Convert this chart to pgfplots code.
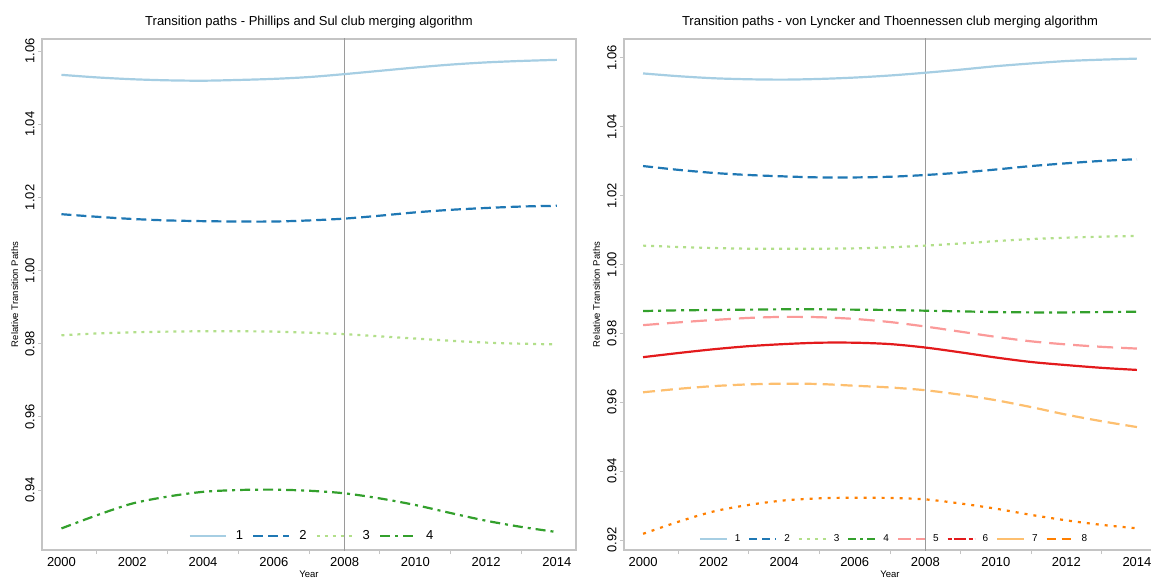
\documentclass[border=0pt]{standalone}
\usepackage{fontspec}
\setmainfont{Liberation Sans}
\usepackage{pgfplots}
\usepackage{pgfplotstable}
\pgfplotsset{compat=1.18}

\definecolor{c1}{HTML}{A6CEE3}
\definecolor{c2}{HTML}{1F78B4}
\definecolor{c3}{HTML}{B2DF8A}
\definecolor{c4}{HTML}{33A02C}
\definecolor{c5}{HTML}{FB9A99}
\definecolor{c6}{HTML}{E31A1C}
\definecolor{c7}{HTML}{FDBF6F}
\definecolor{c8}{HTML}{FF7F00}
\definecolor{framec}{HTML}{C4C4C4}
\definecolor{vlinec}{HTML}{9A9A9A}

\pgfplotstableread{
year a b c d
2000 1.0535 1.0154 0.9823 0.9295
2001 1.0528 1.0147 0.9828 0.9331
2002 1.0523 1.0141 0.9831 0.9363
2003 1.0520 1.0137 0.9833 0.9382
2004 1.0519 1.0135 0.9834 0.9395
2005 1.0521 1.0134 0.9834 0.9400
2006 1.0524 1.0134 0.9833 0.9401
2007 1.0529 1.0137 0.9830 0.9398
2008 1.0537 1.0142 0.9826 0.9391
2009 1.0546 1.0150 0.9820 0.9377
2010 1.0555 1.0159 0.9814 0.9359
2011 1.0563 1.0166 0.9808 0.9337
2012 1.0569 1.0171 0.9803 0.9316
2013 1.0573 1.0175 0.9800 0.9299
2014 1.0576 1.0177 0.9798 0.9285
}\leftdata

\pgfplotstableread{
year a b c d e f g h
2000 1.0555 1.0286 1.0055 0.9865 0.9824 0.9731 0.9629 0.9218
2001 1.0547 1.0275 1.0051 0.9867 0.9832 0.9743 0.9639 0.9253
2002 1.0541 1.0266 1.0048 0.9868 0.9839 0.9754 0.9647 0.9283
2003 1.0538 1.0260 1.0046 0.9869 0.9845 0.9763 0.9652 0.9302
2004 1.0537 1.0256 1.0046 0.9870 0.9848 0.9769 0.9654 0.9315
2005 1.0539 1.0253 1.0046 0.9870 0.9847 0.9773 0.9653 0.9321
2006 1.0543 1.0253 1.0047 0.9869 0.9842 0.9773 0.9648 0.9323
2007 1.0549 1.0255 1.0050 0.9868 0.9833 0.9769 0.9643 0.9322
2008 1.0557 1.0260 1.0055 0.9866 0.9820 0.9759 0.9635 0.9318
2009 1.0566 1.0267 1.0061 0.9864 0.9805 0.9745 0.9622 0.9306
2010 1.0576 1.0276 1.0068 0.9862 0.9790 0.9730 0.9606 0.9291
2011 1.0584 1.0286 1.0074 0.9861 0.9777 0.9717 0.9586 0.9273
2012 1.0591 1.0294 1.0078 0.9861 0.9768 0.9708 0.9564 0.9257
2013 1.0595 1.0301 1.0081 0.9862 0.9761 0.9700 0.9545 0.9244
2014 1.0598 1.0306 1.0083 0.9863 0.9756 0.9694 0.9528 0.9234
}\rightdata

\pgfplotsset{
  common/.style={
    scale only axis, height=511pt, anchor=south west,
    axis line style={framec, line width=1.6pt},
    tick pos=left, tick align=outside,
    xtick={2000,2002,...,2014},
    minor xtick={2001,2003,...,2013},
    major x tick style={draw=none},
    minor x tick style={framec, line width=1pt},
    minor tick length=4pt,
    major tick length=4pt,
    y tick style={framec, line width=1pt},
    ytick distance=0.02,
    x tick label style={font=\fontsize{13}{15}\selectfont, /pgf/number format/1000 sep={}, yshift=0pt},
    y tick label style={font=\fontsize{13}{15}\selectfont, rotate=90, anchor=south,
      /pgf/number format/fixed, /pgf/number format/fixed zerofill, /pgf/number format/precision=2},
    /pgf/number format/assume math mode=true,
    xlabel={Year},
    xlabel style={font=\fontsize{9.5}{11}\selectfont, at={(axis description cs:0.5,0)}, anchor=north, yshift=-21pt, inner sep=0pt},
    ylabel={Relative Transition Paths},
    ylabel style={font=\fontsize{9.5}{11}\selectfont, inner sep=0pt, anchor=south},
    title style={font=\fontsize{13}{15}\selectfont, at={(axis description cs:0.5,1)}, anchor=base, yshift=7pt, inner sep=0pt},
    legend cell align=left,
    every axis plot/.append style={line width=2.2pt, smooth},
  },
}

\begin{document}
\begin{tikzpicture}
\useasboundingbox (0,0) rectangle (1151pt,579pt);

% Left panel
\begin{axis}[common,
  at={(42pt,29pt)}, width=534pt,
  xmin=1999.45, xmax=2014.54, ymin=0.9236, ymax=1.0633,
  ylabel style={at={(axis description cs:-0.044,0.5)}},
  title={Transition paths - Phillips and Sul club merging algorithm},
  legend columns=-1,
  legend image code/.code={\draw[#1] (0pt,0pt) -- (36pt,0pt);},
  legend style={at={(axis description cs:0.5056,0.028)}, anchor=center, draw=none, fill=none,
    font=\fontsize{13}{15}\selectfont,
    /tikz/every odd column/.append style={column sep=7pt},
    /tikz/every even column/.append style={column sep=7pt}},
]
\addplot[forget plot, vlinec, line width=1.1pt, sharp plot] coordinates {(2008,0.9) (2008,1.1)};
\addplot[c1] table[x=year, y=a] {\leftdata};
\addplot[c2, dash pattern=on 10pt off 5pt] table[x=year, y=b] {\leftdata};
\addplot[c3, dash pattern=on 3pt off 5pt] table[x=year, y=c] {\leftdata};
\addplot[c4, dash pattern=on 10pt off 5pt on 3pt off 5pt] table[x=year, y=d] {\leftdata};
\legend{1,2,3,4}
\end{axis}

% Right panel
\begin{axis}[common,
  at={(624pt,29pt)}, width=532pt,
  xmin=1999.46, xmax=2014.54, ymin=0.9171, ymax=1.0655,
  ylabel style={at={(axis description cs:-0.045,0.5)}},
  title={Transition paths - von Lyncker and Thoennessen club merging algorithm},
  legend columns=-1,
  legend image code/.code={\draw[#1] (0pt,0pt) -- (27pt,0pt);},
  legend style={at={(axis description cs:0.5075,0.0215)}, anchor=center, draw=none, fill=none,
    font=\fontsize{10}{12}\selectfont,
    /tikz/every odd column/.append style={column sep=5pt},
    /tikz/every even column/.append style={column sep=6pt}},
]
\addplot[forget plot, vlinec, line width=1.1pt, sharp plot] coordinates {(2008,0.9) (2008,1.1)};
\addplot[forget plot, c1] table[x=year, y=a] {\rightdata};
\addplot[forget plot, c2, dash pattern=on 10pt off 5pt] table[x=year, y=b] {\rightdata};
\addplot[forget plot, c3, dash pattern=on 3pt off 5pt] table[x=year, y=c] {\rightdata};
\addplot[forget plot, c4, dash pattern=on 10pt off 5pt on 3pt off 5pt] table[x=year, y=d] {\rightdata};
\addplot[forget plot, c5, dash pattern=on 16pt off 8pt] table[x=year, y=e] {\rightdata};
\addplot[forget plot, c6] table[x=year, y=f] {\rightdata};
\addplot[forget plot, c7, dash pattern=on 12pt off 6pt] table[x=year, y=g] {\rightdata};
\addplot[forget plot, c8, dash pattern=on 3pt off 6pt] table[x=year, y=h] {\rightdata};
\addlegendimage{c1, line width=2pt}
\addlegendimage{c2, line width=2pt, dash pattern=on 8pt off 5pt}
\addlegendimage{c3, line width=2pt, dash pattern=on 3pt off 5pt}
\addlegendimage{c4, line width=2pt, dash pattern=on 8pt off 4pt on 3pt off 4pt}
\addlegendimage{c5, line width=2pt, dash pattern=on 13pt off 5pt}
\addlegendimage{c6, line width=2pt, dash pattern=on 4pt off 2pt on 12pt off 3pt}
\addlegendimage{c7, line width=2pt}
\addlegendimage{c8, line width=2pt, dash pattern=on 9pt off 6pt}
\legend{1,2,3,4,5,6,7,8}
\end{axis}
\end{tikzpicture}
\end{document}
